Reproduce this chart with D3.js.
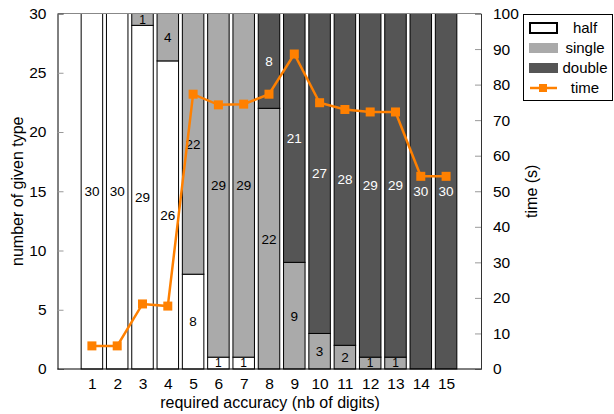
<!DOCTYPE html>
<html>
<head>
<meta charset="utf-8">
<script src="https://cdn.jsdelivr.net/npm/d3@7"></script>
<style>
  body { margin: 0; background: #fff; }
  svg { font-family: "Liberation Sans", Arial, sans-serif; }
</style>
</head>
<body>
<div id="chart"></div>
<script>
// data
const digits = [1, 2, 3, 4, 5, 6, 7, 8, 9, 10, 11, 12, 13, 14, 15];
const halfCount   = [30, 30, 29, 26, 8, 1, 1, 0, 0, 0, 0, 0, 0, 0, 0];
const singleCount = [0, 0, 1, 4, 22, 29, 29, 22, 9, 3, 2, 1, 1, 0, 0];
const doubleCount = [0, 0, 0, 0, 0, 0, 0, 8, 21, 27, 28, 29, 29, 30, 30];
const timeSec = [6.5, 6.5, 18.3, 17.7, 77.3, 74.3, 74.5, 77.3, 88.6, 74.9, 73.0, 72.3, 72.3, 54.2, 54.2];
const leftTicks = [0, 5, 10, 15, 20, 25, 30];
const rightTicks = [0, 10, 20, 30, 40, 50, 60, 70, 80, 90, 100];

const types = [
  { key: 'half',   values: halfCount,   fill: '#ffffff', text: '#000' },
  { key: 'single', values: singleCount, fill: '#aaaaaa', text: '#000' },
  { key: 'double', values: doubleCount, fill: '#555555', text: '#fff' }
];
const orange = '#ff8000';

const W = 614, H = 414;
const mLeft = 57.5, mRight = 481, mTop = 13.5, mBottom = 369;

const svg = d3.select('#chart').append('svg')
  .attr('width', W).attr('height', H);

const x = d3.scaleLinear().domain([-0.36, 16.38]).range([mLeft, mRight]);
const y = d3.scaleLinear().domain([0, 30]).range([mBottom, mTop]);
const y2 = d3.scaleLinear().domain([0, 100]).range([mBottom, mTop]);
const barW = (x(1) - x(0)) * 0.85;

// stack
const rows = digits.map((d, i) => {
  const r = { digit: d };
  types.forEach(t => r[t.key] = t.values[i]);
  return r;
});
const stack = d3.stack().keys(types.map(t => t.key))(rows);

stack.forEach((layer, li) => {
  const t = types[li];
  const g = svg.append('g');
  const segs = layer.filter(s => s[1] - s[0] > 0);
  g.selectAll('rect').data(segs).enter().append('rect')
    .attr('x', s => x(s.data.digit) - barW / 2)
    .attr('width', barW)
    .attr('y', s => y(s[1]))
    .attr('height', s => y(s[0]) - y(s[1]))
    .attr('fill', t.fill)
    .attr('stroke', '#000')
    .attr('stroke-width', 1);
  g.selectAll('text').data(segs).enter().append('text')
    .attr('x', s => x(s.data.digit))
    .attr('y', s => y((s[0] + s[1]) / 2))
    .attr('dy', '0.36em')
    .attr('text-anchor', 'middle')
    .attr('font-size', s => (s[1] - s[0]) === 1 ? 12 : 13.5)
    .attr('fill', t.text)
    .text(s => s[1] - s[0]);
});

// frame
svg.append('line').attr('x1', mLeft).attr('x2', mRight).attr('y1', mTop).attr('y2', mTop)
  .attr('stroke', '#888').attr('stroke-width', 1);

// left axis
const yAxis = svg.append('g').attr('transform', `translate(${mLeft},0)`)
  .call(d3.axisLeft(y).tickValues(leftTicks).tickSize(-6).tickPadding(11));
yAxis.select('.domain').attr('stroke', '#000');
yAxis.selectAll('.tick line').attr('stroke', '#999');
yAxis.selectAll('.tick text').attr('font-size', 15.5).attr('font-family', null).attr('fill', '#000');

// right axis
const y2Axis = svg.append('g').attr('transform', `translate(${mRight},0)`)
  .call(d3.axisRight(y2).tickValues(rightTicks).tickSize(-6).tickPadding(12));
y2Axis.select('.domain').attr('stroke', '#333');
y2Axis.selectAll('.tick line').attr('stroke', '#999');
y2Axis.selectAll('.tick text').attr('font-size', 15.5).attr('font-family', null).attr('fill', '#000');

// bottom axis
const xAxis = svg.append('g').attr('transform', `translate(0,${mBottom})`)
  .call(d3.axisBottom(x).tickValues(digits).tickFormat(d3.format('d')).tickSize(0).tickPadding(9));
xAxis.select('.domain').attr('stroke', '#000').attr('d', `M${mLeft},0H${mRight}`);
xAxis.selectAll('.tick text').attr('font-size', 15.5).attr('font-family', null).attr('fill', '#000');

// time line
const line = d3.line().x((d, i) => x(digits[i])).y(d => y2(d));
svg.append('path').datum(timeSec)
  .attr('d', line)
  .attr('fill', 'none')
  .attr('stroke', orange)
  .attr('stroke-width', 2.5);
svg.append('g').selectAll('rect').data(timeSec).enter().append('rect')
  .attr('x', (d, i) => x(digits[i]) - 4.5)
  .attr('y', d => y2(d) - 4.5)
  .attr('width', 9).attr('height', 9)
  .attr('fill', orange);

// titles
svg.append('text').attr('x', 270).attr('y', 408)
  .attr('text-anchor', 'middle').attr('font-size', 16).text('required accuracy (nb of digits)');
svg.append('text').attr('transform', `translate(23,${(mTop + mBottom) / 2}) rotate(-90)`)
  .attr('text-anchor', 'middle').attr('font-size', 16).text('number of given type');
svg.append('text').attr('transform', `translate(537,${(mTop + mBottom) / 2}) rotate(-90)`)
  .attr('text-anchor', 'middle').attr('font-size', 16).text('time (s)');

// legend
const lg = svg.append('g');
lg.append('rect').attr('x', 523.5).attr('y', 14.5).attr('width', 89).attr('height', 86)
  .attr('fill', '#fff').attr('stroke', '#000');
const legendItems = ['half', 'single', 'double', 'time'];
const ly = d3.scalePoint().domain(legendItems).range([28, 88]);
legendItems.forEach((k, i) => {
  const yy = ly(k);
  if (k === 'time') {
    lg.append('line').attr('x1', 530).attr('x2', 557).attr('y1', yy).attr('y2', yy)
      .attr('stroke', orange).attr('stroke-width', 2.5);
    lg.append('rect').attr('x', 539).attr('y', yy - 4).attr('width', 8).attr('height', 8).attr('fill', orange);
  } else {
    const t = types[i];
    lg.append('rect').attr('x', k === 'half' ? 530 : 529).attr('y', yy - 5)
      .attr('width', k === 'half' ? 27 : 29).attr('height', 10)
      .attr('fill', t.fill)
      .attr('stroke', k === 'half' ? '#000' : 'none').attr('stroke-width', 2);
  }
  lg.append('text').attr('x', 585).attr('y', yy).attr('dy', '0.36em')
    .attr('text-anchor', 'middle').attr('font-size', 15).text(k);
});
</script>
</body>
</html>
